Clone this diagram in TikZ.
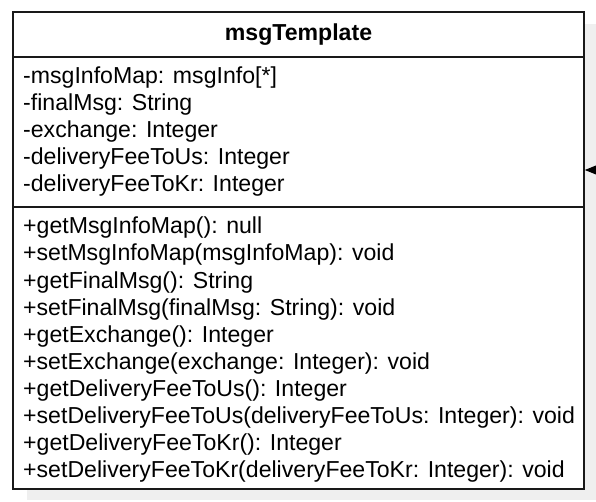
\documentclass[tikz,border=0pt]{standalone}
\usepackage{fontspec}
\setmainfont{Liberation Sans}
\usetikzlibrary{arrows.meta}
\definecolor{shadowgray}{HTML}{EFEFEF}
\begin{document}
\begin{tikzpicture}[x=1pt,y=-1pt,
  txt/.style={anchor=base west,inner sep=0pt,font=\fontsize{23.1}{27}\selectfont},
  ttl/.style={anchor=base,inner sep=0pt,font=\fontsize{23.1}{27}\selectfont\bfseries},
  border/.style={draw=black!90,line width=1.6pt},
  shadowbox/.style={fill=shadowgray,draw=none}]
\useasboundingbox (0,0) rectangle (596,502);
\fill[shadowgray] (27,24) rectangle (596,500);
\node[border,fill=white,rectangle,minimum width=571pt,minimum height=477pt,inner sep=0pt] (cls) at (298.5,250.5) {};
\coordinate (s1) at (13,57);
\coordinate (s2) at (13,207);
\draw[border] (s1) -- (s1 -| cls.east);
\draw[border] (s2) -- (s2 -| cls.east);
\node[ttl] (title) at (298.5,41) {msgTemplate};
\node[txt] (a1) at (23,84) {-msgInfoMap: msgInfo[*]};
\node[txt] (a2) at (23,111) {-finalMsg: String};
\node[txt] (a3) at (23,138) {-exchange: Integer};
\node[txt] (a4) at (23,165) {-deliveryFeeToUs: Integer};
\node[txt] (a5) at (23,192) {-deliveryFeeToKr: Integer};
\node[txt] (m1) at (23,234) {+getMsgInfoMap(): null};
\node[txt] (m2) at (23,261) {+setMsgInfoMap(msgInfoMap): void};
\node[txt] (m3) at (23,288) {+getFinalMsg(): String};
\node[txt] (m4) at (23,315) {+setFinalMsg(finalMsg: String): void};
\node[txt] (m5) at (23,342) {+getExchange(): Integer};
\node[txt] (m6) at (23,369) {+setExchange(exchange: Integer): void};
\node[txt] (m7) at (23,396) {+getDeliveryFeeToUs(): Integer};
\node[txt] (m8) at (23,423) {+setDeliveryFeeToUs(deliveryFeeToUs: Integer): void};
\node[txt] (m9) at (23,450) {+getDeliveryFeeToKr(): Integer};
\node[txt] (m10) at (23,477) {+setDeliveryFeeToKr(deliveryFeeToKr: Integer): void};
\coordinate (ext) at (620,170);
\draw[line width=1.2pt,-{Triangle[length=14pt,width=11pt]}] (ext) -- (ext -| cls.east);
\end{tikzpicture}
\end{document}
